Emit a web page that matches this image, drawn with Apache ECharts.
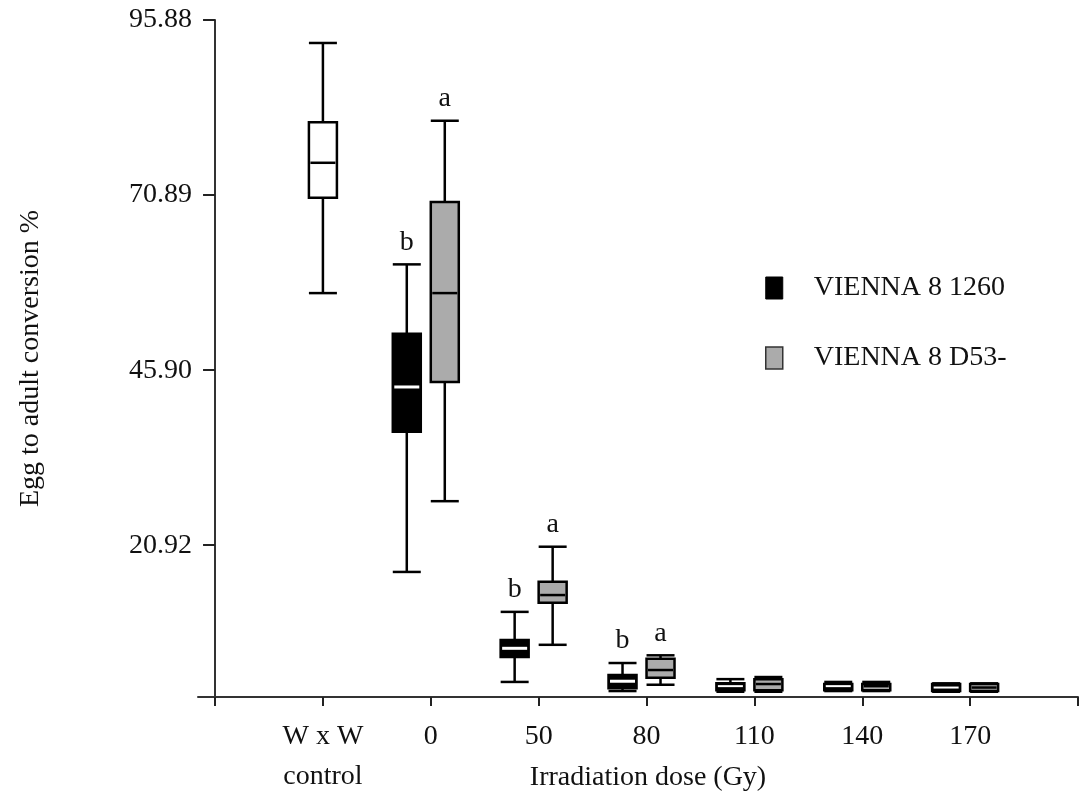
<!DOCTYPE html>
<html>
<head>
<meta charset="utf-8">
<script src="https://cdn.jsdelivr.net/npm/echarts@6/dist/echarts.min.js"></script>
<style>
html,body{margin:0;padding:0;background:#fff;}
#chart{width:1081px;height:797px;}
</style>
</head>
<body>
<div id="chart"></div>
<script>
// ---- data ----
const categories = ['W x W\ncontrol', '0', '50', '80', '110', '140', '170'];
const yTickValues = [20.92, 45.90, 70.89, 95.88];
// [min, Q1, median, Q3, max]
const control = [56.9, 70.5, 75.5, 81.3, 92.6];
const vienna1260 = [
  [17.1, 37.1, 43.5, 51.1, 61.0],
  [1.4, 4.95, 6.2, 7.4, 11.4],
  [0.1, 0.5, 1.5, 2.4, 4.1],
  [0.0, 0.2, 0.8, 1.2, 1.8],
  [0.1, 0.2, 0.8, 1.1, 1.4],
  [0.0, 0.1, 0.6, 1.1, 1.2]
];
const viennaD53 = [
  [27.2, 44.2, 56.9, 69.9, 81.5],
  [6.7, 12.7, 13.8, 15.7, 20.7],
  [1.0, 2.0, 3.1, 4.7, 5.2],
  [0.0, 0.2, 1.1, 1.8, 2.1],
  [0.1, 0.2, 0.8, 1.1, 1.4],
  [0.0, 0.1, 0.6, 1.1, 1.2]
];
const letters1260 = ['b', 'b', 'b', '', '', ''];
const lettersD53 = ['a', 'a', 'a', '', '', ''];
const seriesNames = ['VIENNA 8 1260', 'VIENNA 8 D53-'];

// ---- rendering ----
const FONT = '"Liberation Serif", "Times New Roman", serif';

function makeRender(fill, medianColor, dx, letters) {
  return function (params, api) {
    const i = params.dataIndex;
    const x = api.value(0);
    const mn = api.value(1), q1 = api.value(2), md = api.value(3), q3 = api.value(4), mx = api.value(5);
    const cx = api.coord([x, 0])[0] + dx;
    const y = v => api.coord([x, v])[1];
    const w = 28, h = w / 2, lw = 2.5;
    const stroke = { stroke: '#000', lineWidth: lw };
    const boxH = y(q1) - y(q3);
    const children = [
      { type: 'line', shape: { x1: cx, y1: y(mn), x2: cx, y2: y(mx) }, style: stroke },
      { type: 'line', shape: { x1: cx - h, y1: y(mx), x2: cx + h, y2: y(mx) }, style: stroke },
      { type: 'line', shape: { x1: cx - h, y1: y(mn), x2: cx + h, y2: y(mn) }, style: stroke },
      { type: 'rect', shape: { x: cx - h, y: y(q3), width: w, height: boxH },
        style: { fill: fill, stroke: '#000', lineWidth: lw } },
      { type: 'line', shape: { x1: cx - h + 1.5, y1: y(md), x2: cx + h - 1.5, y2: y(md) },
        style: { stroke: medianColor, lineWidth: medianColor === '#fff' ? (boxH < 12 ? 2 : 3) : 2.5 } }
    ];
    if (letters && letters[i]) {
      children.push({
        type: 'text', x: cx, y: y(mx) - 8,
        style: { text: letters[i], fill: '#111', font: '28px ' + FONT,
                 align: 'center', verticalAlign: 'bottom',
                 textAlign: 'center', textVerticalAlign: 'bottom' }
      });
    }
    return { type: 'group', children: children };
  };
}

const controlData = [[1].concat(control)];
const data1260 = vienna1260.map((r, i) => [i + 2].concat(r));
const dataD53 = viennaD53.map((r, i) => [i + 2].concat(r));

const chart = echarts.init(document.getElementById('chart'), null, { renderer: 'canvas' });
const option = {
  animation: false,
  backgroundColor: '#fff',
  grid: { left: 198, right: 3, top: 20, bottom: 100, containLabel: false, outerBoundsMode: 'none' },
  legend: {
    orient: 'vertical',
    left: 760, top: 269,
    itemWidth: 17, itemHeight: 22, itemGap: 42,
    textStyle: { fontFamily: FONT, fontSize: 28, color: '#111', padding: [0, 0, 0, 26] },
    data: [
      { name: seriesNames[0], icon: 'rect', itemStyle: { color: '#000', borderColor: '#000', borderWidth: 1 } },
      { name: seriesNames[1], icon: 'rect', itemStyle: { color: '#ababab', borderColor: '#333', borderWidth: 1.5 } }
    ]
  },
  xAxis: {
    type: 'value',
    min: -0.158, max: 8,
    name: 'Irradiation dose (Gy)',
    nameLocation: 'middle',
    nameGap: 67,
    nameMoveOverlap: false,
    nameTextStyle: { fontFamily: FONT, fontSize: 28, color: '#111', padding: [0, 0, 0, 20] },
    splitLine: { show: false },
    axisLine: { onZero: false, lineStyle: { color: '#333', width: 2 } },
    axisTick: { show: true, customValues: [0, 1, 2, 3, 4, 5, 6, 7, 8], length: 9,
                lineStyle: { color: '#222', width: 2 } },
    axisLabel: {
      customValues: [1, 2, 3, 4, 5, 6, 7],
      formatter: v => categories[Math.round(v) - 1] || '',
      fontFamily: FONT, fontSize: 28, lineHeight: 40, color: '#111', margin: 20
    }
  },
  yAxis: {
    type: 'value',
    min: -0.75, max: 95.88,
    name: 'Egg to adult conversion %',
    nameLocation: 'middle',
    nameRotate: 90,
    nameGap: 153,
    nameMoveOverlap: false,
    nameTextStyle: { fontFamily: FONT, fontSize: 28, color: '#111' },
    splitLine: { show: false },
    axisLine: { show: true, onZero: true, lineStyle: { color: '#333', width: 2 } },
    axisTick: { show: true, customValues: yTickValues, length: 12, lineStyle: { color: '#222', width: 2 } },
    axisLabel: {
      customValues: yTickValues,
      formatter: v => v.toFixed(2),
      fontFamily: FONT, fontSize: 28, color: '#111', margin: 6
    }
  },
  series: [
    {
      name: 'W x W control', type: 'custom',
      renderItem: makeRender('#fff', '#000', 0, null),
      encode: { x: 0, y: [1, 2, 3, 4, 5] },
      data: controlData
    },
    {
      name: seriesNames[0], type: 'custom',
      itemStyle: { color: '#000' },
      renderItem: makeRender('#000', '#fff', -24, letters1260),
      encode: { x: 0, y: [1, 2, 3, 4, 5] },
      data: data1260
    },
    {
      name: seriesNames[1], type: 'custom',
      itemStyle: { color: '#ababab' },
      renderItem: makeRender('#ababab', '#000', 14, lettersD53),
      encode: { x: 0, y: [1, 2, 3, 4, 5] },
      data: dataD53
    }
  ]
};
chart.setOption(option);
</script>
</body>
</html>
